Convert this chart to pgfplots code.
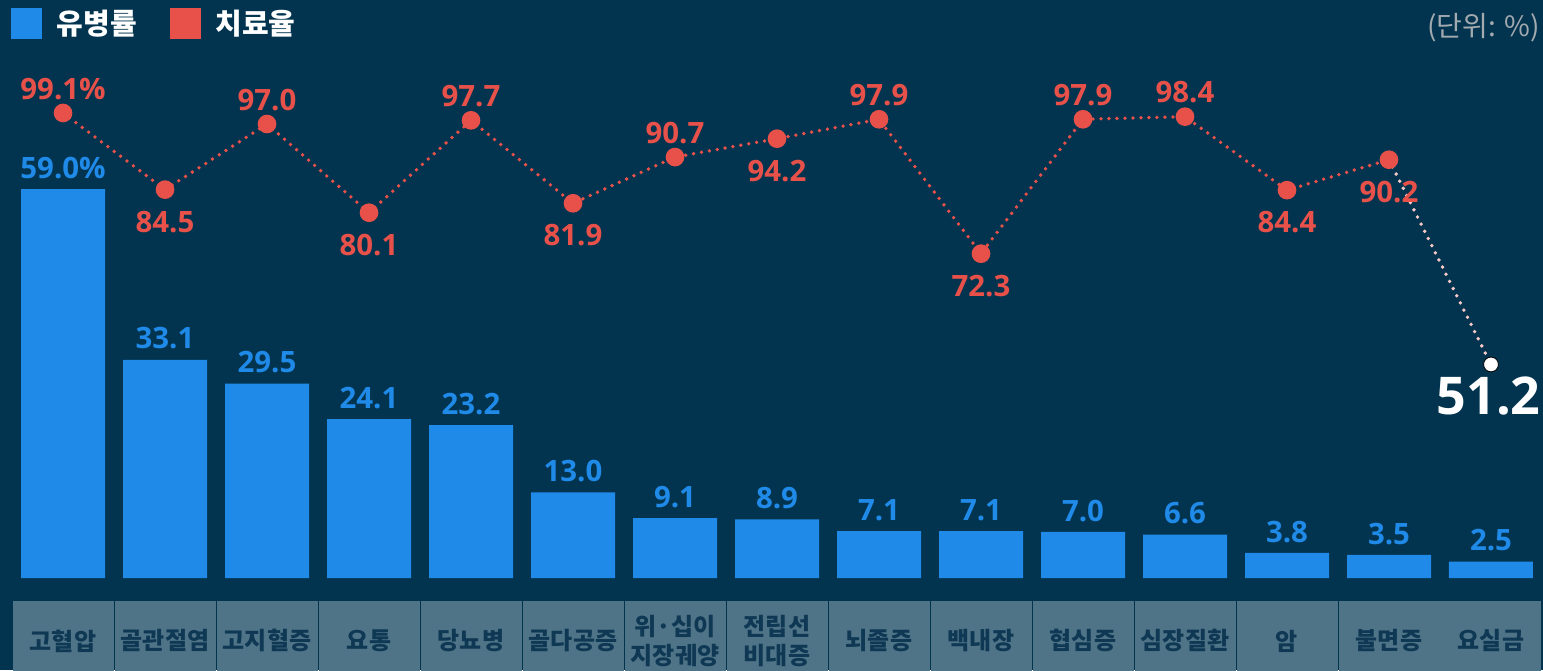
\documentclass[border=0pt]{standalone}
\usepackage{fontspec}
\setmainfont{Noto Sans CJK KR}
\newfontfamily\numfont{Open Sans}[BoldFont={Open Sans Bold}]
\usepackage{pgfplots}
\pgfplotsset{compat=1.18}

\definecolor{bgnavy}{HTML}{02344F}
\definecolor{barblue}{HTML}{1F8AE8}
\definecolor{lnred}{HTML}{E8514A}
\definecolor{boxfill}{HTML}{4F7488}
\definecolor{boxtext}{HTML}{0E3853}
\definecolor{unitgray}{HTML}{A3AAB0}

\pgfplotsset{
  base/.style={width=771.5pt, height=335pt, scale only axis,
    xmin=-0.618, xmax=14.51, clip=false, at={(0,0)}, anchor=south west},
  dotline/.style={line width=1.9pt, dash pattern=on 0pt off 4pt, line cap=round},
}

\begin{document}
\begin{tikzpicture}
% bars (prevalence)
\begin{axis}[base,
  ymin=-13.95, ymax=87.67,
  axis background/.style={fill=bgnavy},
  axis line style={draw=none}, tick style={draw=none},
  ytick=\empty,
  xtick={0,...,14},
  xticklabels={고혈압,골관절염,고지혈증,요통,당뇨병,골다공증,{위·십이\\지장궤양},{전립선\\비대증},뇌졸증,백내장,협심증,심장질환,암,불면증,요실금},
  xticklabel style={font=\bfseries\fontsize{12}{14.5}\selectfont, text=boxtext,
    fill=boxfill, minimum width=50.5pt, minimum height=40pt, inner sep=0pt,
    anchor=north, yshift=39pt, align=center},
  ybar, bar width=42pt, bar shift=0pt,
  point meta=explicit symbolic,
  nodes near coords,
  every node near coord/.style={anchor=south, yshift=5pt, inner sep=0pt,
    font=\numfont\bfseries\fontsize{14.7}{18}\selectfont, text=barblue},
]
\addplot[fill=barblue, draw=none] coordinates {
  (0,59.0) [59.0\%]
  (1,33.1) [33.1]
  (2,29.5) [29.5]
  (3,24.1) [24.1]
  (4,23.2) [23.2]
  (5,13.0) [13.0]
  (6,9.1) [9.1]
  (7,8.9) [8.9]
  (8,7.1) [7.1]
  (9,7.1) [7.1]
  (10,7.0) [7.0]
  (11,6.6) [6.6]
  (12,3.8) [3.8]
  (13,3.5) [3.5]
  (14,2.5) [2.5]
};
\end{axis}

% line (treatment rate)
\begin{axis}[base,
  ymin=-7.0, ymax=120.62,
  hide axis,
  legend style={at={(0.00713,0.988)}, anchor=north west, draw=none, fill=none,
    inner sep=0pt, outer sep=0pt,
    nodes={inner sep=0pt, text=white, font=\bfseries\fontsize{14.5}{17}\selectfont},
    /tikz/every odd column/.append style={column sep=7.5pt},
    /tikz/every even column/.append style={column sep=16.5pt}},
  legend columns=2,
  legend cell align=left,
]
\addlegendimage{legend image code/.code={\fill[barblue] (0pt,-7.5pt) rectangle (15pt,7.5pt);}}
\addlegendentry{유병률}
\addlegendimage{legend image code/.code={\fill[lnred] (0pt,-7.5pt) rectangle (15pt,7.5pt);}}
\addlegendentry{치료율}

\addplot[lnred, dotline,
  mark=*, mark size=3.7pt, mark options={solid, fill=lnred, draw=none}, forget plot]
  coordinates {
  (0,99.1)(1,84.5)(2,97.0)(3,80.1)(4,97.7)(5,81.9)(6,90.7)(7,94.2)
  (8,97.9)(9,72.3)(10,97.9)(11,98.4)(12,84.4)(13,90.2)
};
\addplot[lnred!30!white, dotline, forget plot]
  coordinates {(13,90.2)(14,51.2)};
\addplot[only marks, mark=*, mark size=3.7pt, mark options={fill=white, draw=none}, forget plot]
  coordinates {(14,51.2)};

% labels above points
\addplot[draw=none, forget plot, point meta=explicit symbolic, nodes near coords,
  every node near coord/.style={anchor=south, yshift=6.5pt, inner sep=0pt,
    font=\numfont\bfseries\fontsize{14.7}{18}\selectfont, text=lnred}]
  coordinates {
  (0,99.1) [99.1\%]
  (2,97.0) [97.0]
  (4,97.7) [97.7]
  (6,90.7) [90.7]
  (8,97.9) [97.9]
  (10,97.9) [97.9]
  (11,98.4) [98.4]
};
% labels below points
\addplot[draw=none, forget plot, point meta=explicit symbolic, nodes near coords,
  every node near coord/.style={anchor=north, yshift=-10.5pt, inner sep=0pt,
    font=\numfont\bfseries\fontsize{14.7}{18}\selectfont, text=lnred}]
  coordinates {
  (1,84.5) [84.5]
  (3,80.1) [80.1]
  (5,81.9) [81.9]
  (7,94.2) [94.2]
  (9,72.3) [72.3]
  (12,84.4) [84.4]
  (13,90.2) [90.2]
};
\addplot[draw=none, forget plot, point meta=explicit symbolic, nodes near coords,
  every node near coord/.style={anchor=north east, yshift=-6pt, xshift=25pt, inner sep=0pt,
    font=\numfont\bfseries\fontsize{26}{30}\selectfont, text=white}]
  coordinates {(14,51.2) [51.2]};

\node[anchor=east, inner sep=0pt, text=unitgray, font=\fontsize{14}{16}\selectfont]
  at (rel axis cs:0.998,0.958) {(단위: \%)};
\end{axis}
\pgfresetboundingbox
\path[use as bounding box] (0,0) rectangle (771.5pt,335pt);
\end{tikzpicture}
\end{document}
